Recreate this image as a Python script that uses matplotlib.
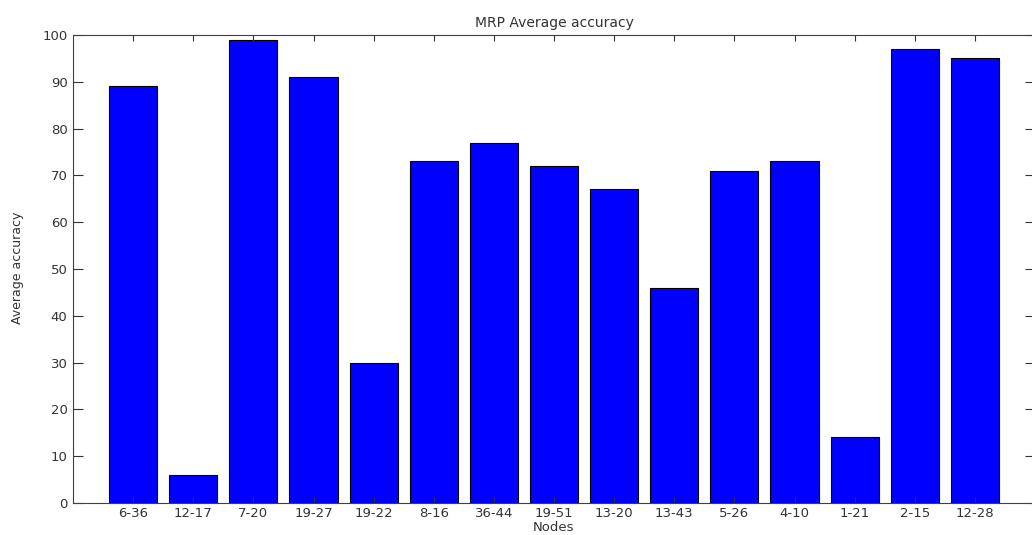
import matplotlib
matplotlib.use("Agg")
import matplotlib.pyplot as plt

# bar data
nodes = ["6-36", "12-17", "7-20", "19-27", "19-22", "8-16", "36-44", "19-51",
         "13-20", "13-43", "5-26", "4-10", "1-21", "2-15", "12-28"]
accuracy = [89, 6, 99, 91, 30, 73, 77, 72, 67, 46, 71, 73, 14, 97, 95]

plt.rcParams["font.family"] = ["DejaVu Sans"]

W, H = 1032, 535
fig = plt.figure(figsize=(W / 100, H / 100), dpi=100)
# axes runs a little past the right edge of the image, as in the original
x0, x1, y0, y1 = 73, 1035, 35, 503
ax = fig.add_axes([x0 / W, 1 - y1 / H, (x1 - x0) / W, (y1 - y0) / H])

pos = list(range(1, len(nodes) + 1))
ax.bar(pos, accuracy, width=0.8, color="#0000ff", edgecolor="black", linewidth=0.8)

ax.set_xlim(0, len(nodes) + 1)
ax.set_ylim(0, 100)
ax.set_yticks(range(0, 101, 10))
ax.set_xticks(pos)
ax.set_xticklabels(nodes)

ax.tick_params(axis="y", direction="in", length=7, width=0.8, color="0.2",
               labelsize=9.5, labelcolor="0.2", right=True, pad=4)
ax.tick_params(axis="x", direction="in", length=4, width=0.8, color="0.2",
               labelsize=9.5, labelcolor="0.2", top=True, pad=3)
for sp in ax.spines.values():
    sp.set_color("0.25")
    sp.set_linewidth(0.8)

ax.set_title("MRP Average accuracy", fontsize=10, color="0.2", pad=6)
ax.set_xlabel("Nodes", fontsize=9.5, color="0.2")
ax.xaxis.set_label_coords(554 / W, 1 - 521 / H, transform=fig.transFigure)
ax.set_ylabel("Average accuracy", fontsize=9, color="0.2")
ax.yaxis.set_label_coords(24 / W, 0.5, transform=fig.transFigure)

fig.savefig("out.png", dpi=100)
